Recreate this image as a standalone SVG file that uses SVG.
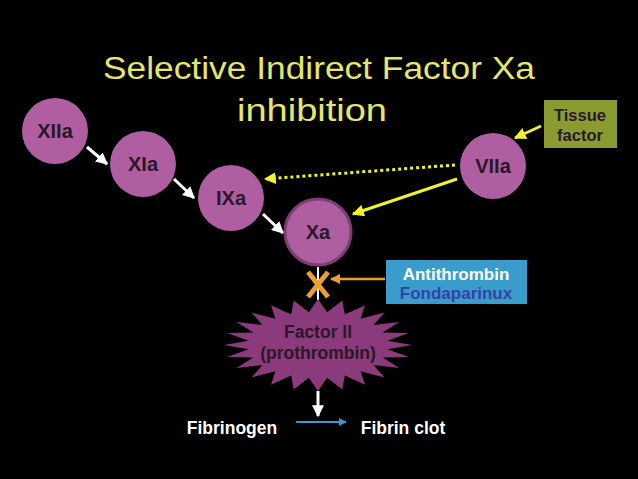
<svg xmlns="http://www.w3.org/2000/svg" width="638" height="479" viewBox="0 0 638 479">
<style>
.title{font-family:"Liberation Sans",Arial,sans-serif;font-size:31px;fill:#e6e66a;text-anchor:middle}
.node{fill:#ae5ea1}
.lbl{font-family:"Liberation Sans",Arial,sans-serif;font-weight:bold;font-size:20px;fill:#2a1828;text-anchor:middle}
.wt{font-family:"Liberation Sans",Arial,sans-serif;font-weight:bold;font-size:17.5px;fill:#ffffff;text-anchor:middle}
.c-white{stroke:#ffffff;stroke-width:3;fill:none}
.c-yel{stroke:#f2f22a;stroke-width:3;fill:none}
</style>
<defs>
<marker id="aw" viewBox="0 0 10 10" refX="9" refY="5" markerWidth="4" markerHeight="4" orient="auto" markerUnits="strokeWidth"><path d="M0,0 L10,5 L0,10 z" fill="#ffffff"/></marker>
<marker id="ay" viewBox="0 0 10 10" refX="9" refY="5" markerWidth="4" markerHeight="4" orient="auto" markerUnits="strokeWidth"><path d="M0,0 L10,5 L0,10 z" fill="#f2f22a"/></marker>
<marker id="ao" viewBox="0 0 10 10" refX="9" refY="5" markerWidth="4" markerHeight="4" orient="auto" markerUnits="strokeWidth"><path d="M0,0 L10,5 L0,10 z" fill="#e8a030"/></marker>
<marker id="ab" viewBox="0 0 10 10" refX="9" refY="5" markerWidth="4" markerHeight="4" orient="auto" markerUnits="strokeWidth"><path d="M0,0 L10,5 L0,10 z" fill="#3a9ad0"/></marker>
</defs>
<rect width="638" height="479" fill="#000000"/>
<g id="title">
<text class="title" x="319" y="79" textLength="432" lengthAdjust="spacingAndGlyphs">Selective Indirect Factor Xa</text>
<text class="title" x="312" y="121" textLength="150" lengthAdjust="spacingAndGlyphs">inhibition</text>
</g>
<g id="connectors">
<line class="c-white" x1="87" y1="147" x2="107" y2="164" marker-end="url(#aw)"/>
<line class="c-white" x1="174" y1="179" x2="194" y2="198" marker-end="url(#aw)"/>
<line class="c-white" x1="263" y1="214" x2="283" y2="233" marker-end="url(#aw)"/>
<line class="c-yel" x1="455" y1="165" x2="265" y2="179" stroke-dasharray="3,3" marker-end="url(#ay)"/>
<line class="c-yel" x1="457" y1="179" x2="353" y2="214" marker-end="url(#ay)"/>
<line class="c-yel" x1="541" y1="126" x2="515" y2="138" marker-end="url(#ay)"/>
<line x1="318" y1="267" x2="318" y2="300" stroke="#ffffff" stroke-width="2"/>
<line x1="385" y1="279" x2="331" y2="279" stroke="#e8a030" stroke-width="2.5" marker-end="url(#ao)"/>
<line class="c-white" x1="318" y1="391" x2="318" y2="416" marker-end="url(#aw)"/>
<line x1="296" y1="422" x2="346" y2="422" stroke="#3a9ad0" stroke-width="2" marker-end="url(#ab)"/>
</g>
<g id="block" stroke="#e8a030" stroke-width="5" stroke-linecap="butt">
<line x1="308" y1="272" x2="328" y2="297"/>
<line x1="328" y1="272" x2="308" y2="297"/>
</g>
<g id="n-XIIa"><circle class="node" cx="55" cy="131" r="33"/><text class="lbl" x="55" y="138">XIIa</text></g>
<g id="n-XIa"><circle class="node" cx="143" cy="164" r="33"/><text class="lbl" x="143" y="171">XIa</text></g>
<g id="n-IXa"><circle class="node" cx="231" cy="198" r="33"/><text class="lbl" x="231" y="205">IXa</text></g>
<g id="n-Xa"><circle cx="318" cy="232" r="33" fill="#ae5ea1" stroke="#7e3e74" stroke-width="3"/><text class="lbl" x="318" y="239">Xa</text></g>
<g id="n-VIIa"><circle class="node" cx="493" cy="166" r="33"/><text class="lbl" x="493" y="173">VIIa</text></g>
<g id="n-tissue">
<rect x="544" y="100" width="73" height="48" fill="#8a9c30"/>
<text class="lbl" x="580" y="121" style="font-size:16.5px">Tissue</text>
<text class="lbl" x="580" y="141" style="font-size:16.5px">factor</text>
</g>
<g id="n-antithrombin">
<rect x="386" y="260" width="141" height="44" fill="#3a9ccb"/>
<text class="wt" x="456" y="280" style="font-size:17px">Antithrombin</text>
<text class="wt" x="456" y="299" style="font-size:17px;fill:#3442a8">Fondaparinux</text>
</g>
<g id="n-factorII">
<polygon fill="#8b3a7c" points="412,345 387.4,340.7 408.8,333.1 382.7,332.4 399.4,322 373.5,324.9 384.5,312.5 360.6,318.8 365,305.2 344.8,314.5 342.3,300.6 327.1,312.3 318,299 308.9,312.3 293.7,300.6 291.2,314.5 271,305.2 275.4,318.8 251.5,312.5 262.5,324.9 236.6,322 253.3,332.4 227.2,333.1 248.6,340.7 224,345 248.6,349.3 227.2,356.9 253.3,357.6 236.6,368 262.5,365.1 251.5,377.5 275.4,371.2 271,384.8 291.2,375.5 293.7,389.4 308.9,377.7 318,391 327.1,377.7 342.3,389.4 344.8,375.5 365,384.8 360.6,371.2 384.5,377.5 373.5,365.1 399.4,368 382.7,357.6 408.8,356.9 387.4,349.3"/>
<text class="lbl" x="318" y="338" style="font-size:17.5px">Factor II</text>
<text class="lbl" x="318" y="359" style="font-size:17.5px">(prothrombin)</text>
</g>
<g id="n-fibrinogen"><text class="wt" x="232" y="434">Fibrinogen</text></g>
<g id="n-fibrin"><text class="wt" x="403" y="434">Fibrin clot</text></g>
</svg>
